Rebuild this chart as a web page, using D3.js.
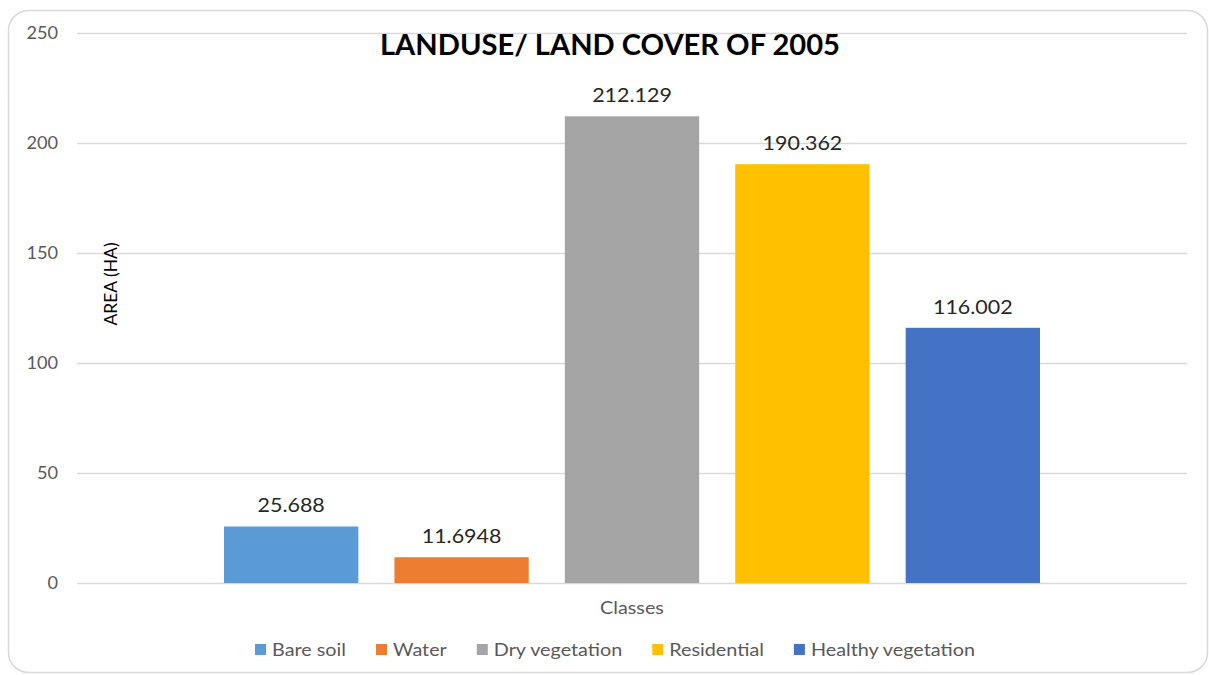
<!DOCTYPE html>
<html>
<head>
<meta charset="utf-8">
<script src="https://cdn.jsdelivr.net/npm/d3@7"></script>
<style>
  html, body { margin: 0; padding: 0; background: #fff; }
  svg { display: block; }
  text { font-family: Lato, "Open Sans", sans-serif; }
</style>
</head>
<body>
<svg id="chart" width="1209" height="675"></svg>
<script>
// Land cover classes and their area (ha) in 2005
const classes = ["Bare soil", "Water", "Dry vegetation", "Residential", "Healthy vegetation"];
const areas = [25.688, 11.6948, 212.129, 190.362, 116.002];
const labels = ["25.688", "11.6948", "212.129", "190.362", "116.002"];
const colors = ["#5b9bd5", "#ed7d31", "#a5a5a5", "#ffc000", "#4472c4"];
const yTicks = [0, 50, 100, 150, 200, 250];

// text is set slightly wide
const SX = 1.1;
const svg = d3.select("#chart");

// outer chart frame
svg.append("rect")
  .attr("x", 8.5).attr("y", 10.5)
  .attr("width", 1199).attr("height", 662)
  .attr("rx", 20).attr("ry", 20)
  .attr("fill", "#fff")
  .attr("stroke", "#d9d9d9").attr("stroke-width", 1.5);

const plot = { left: 77, right: 1187, top: 33, bottom: 583 };

const y = d3.scaleLinear().domain([0, 250]).range([plot.bottom, plot.top]);
const x = d3.scaleBand().domain(classes)
  .range([224, 1040]).paddingInner(36 / 170).paddingOuter(0);

// gridlines
const yAxis = d3.axisLeft(y).tickValues(yTicks)
  .tickSize(-(plot.right - plot.left)).tickFormat("");
const gy = svg.append("g").attr("transform", `translate(${plot.left},0)`).call(yAxis);
gy.select(".domain").remove();
gy.selectAll(".tick line").attr("stroke", "#d9d9d9").attr("stroke-width", 1.5);

// tick labels
svg.append("g").selectAll("text")
  .data(yTicks)
  .join("text")
  .attr("transform", d => `translate(58,${y(d) + 6}) scale(${SX},1)`)
  .attr("text-anchor", "end")
  .attr("fill", "#595959")
  .style("font-size", "16.5px")
  .text(d3.format("d"));

// bars
svg.append("g").selectAll("rect")
  .data(classes)
  .join("rect")
  .attr("x", d => x(d))
  .attr("y", (d, i) => y(areas[i]))
  .attr("width", x.bandwidth())
  .attr("height", (d, i) => y(0) - y(areas[i]))
  .attr("fill", (d, i) => colors[i]);

// value labels
svg.append("g").selectAll("text")
  .data(classes)
  .join("text")
  .attr("transform", (d, i) =>
    `translate(${x(d) + x.bandwidth() / 2},${y(areas[i]) - 14}) scale(${SX},1)`)
  .attr("text-anchor", "middle")
  .attr("fill", "#262626")
  .style("font-size", "19.5px")
  .text((d, i) => labels[i]);

// title
svg.append("text")
  .attr("transform", "translate(610,55) scale(1.04,1)")
  .attr("text-anchor", "middle")
  .attr("fill", "#000")
  .style("font-size", "28px").style("font-weight", "bold")
  .text("LANDUSE/ LAND COVER OF 2005");

// axis titles
svg.append("text")
  .attr("transform", "translate(117,284) rotate(-90)")
  .attr("text-anchor", "middle")
  .attr("fill", "#000")
  .style("font-size", "17.5px")
  .text("AREA (HA)");

svg.append("text")
  .attr("transform", `translate(632,614) scale(${SX},1)`)
  .attr("text-anchor", "middle")
  .attr("fill", "#595959")
  .style("font-size", "18px")
  .text("Classes");

// legend
const legend = svg.append("g");
const items = legend.selectAll("g").data(classes).join("g");
items.append("rect").attr("width", 11).attr("height", 11).attr("y", -12)
  .attr("fill", (d, i) => colors[i]);
items.append("text")
  .attr("transform", `translate(17,0) scale(${SX},1)`)
  .attr("fill", "#595959").style("font-size", "18px")
  .text(d => d);
const gap = 30;
const widths = items.nodes().map(n => {
  const t = n.querySelector("text");
  return 17 + t.getComputedTextLength() * SX;
});
const total = d3.sum(widths) + gap * (widths.length - 1);
let start = 615 - total / 2;
const offsets = widths.map(w => { const s = start; start += w + gap; return s; });
items.attr("transform", (d, i) => `translate(${offsets[i]},656)`);
</script>
</body>
</html>
